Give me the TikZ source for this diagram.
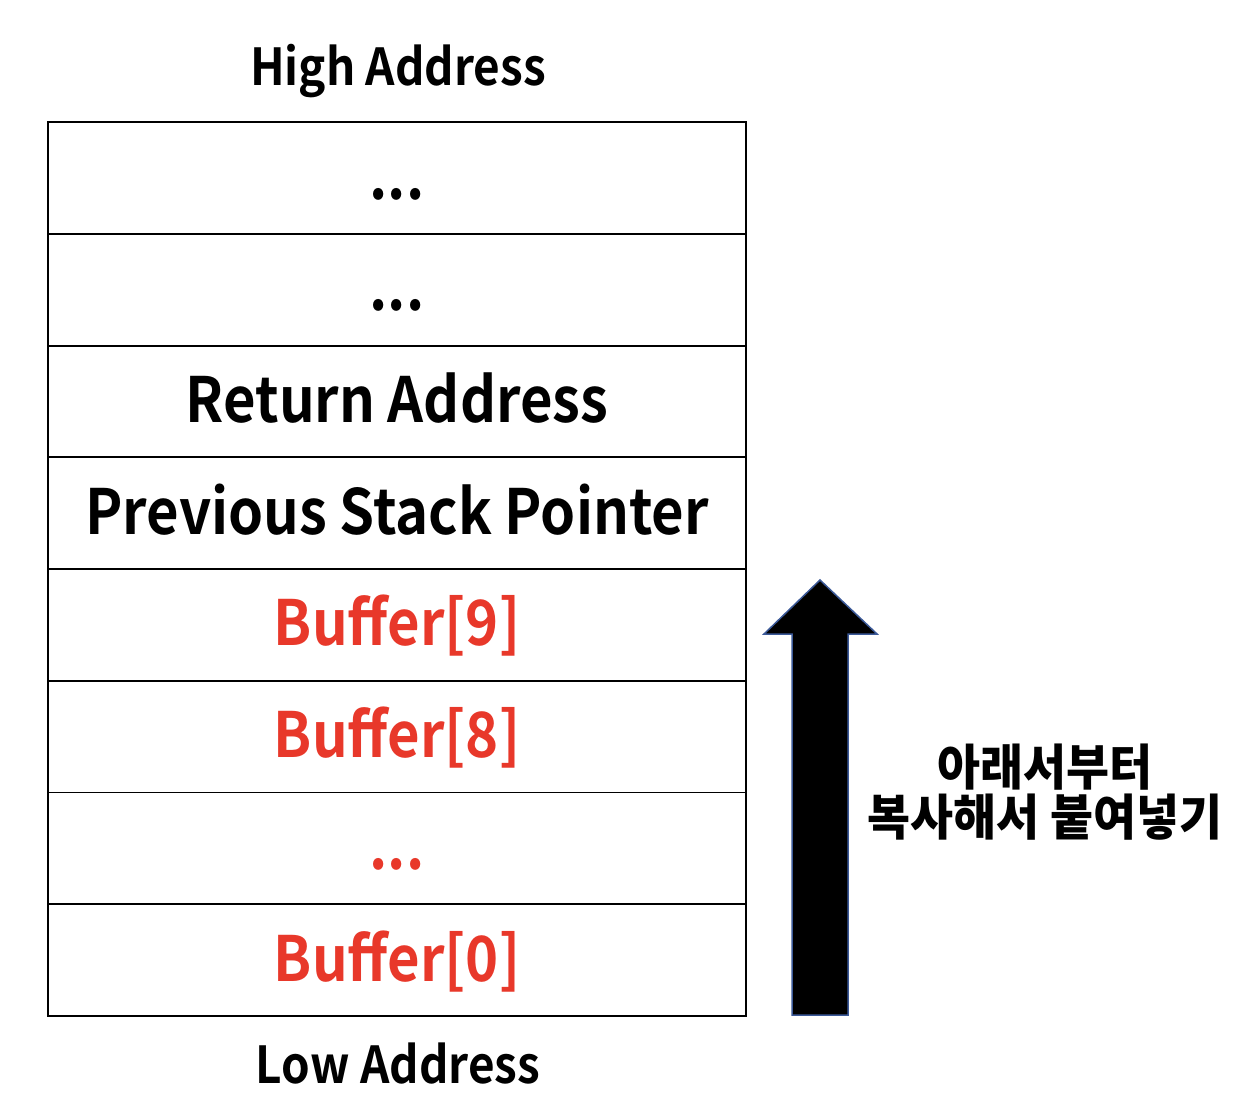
\documentclass[tikz,border=0pt]{standalone}
\usepackage{fontspec}
\setmainfont{Noto Sans CJK KR}[UprightFont=* Bold, FakeStretch=0.9]
\newfontfamily\notefont{Noto Sans CJK KR}[UprightFont=* Black, FakeStretch=0.95]
\usetikzlibrary{positioning}
\definecolor{bufred}{RGB}{232,56,42}
\definecolor{arrowedge}{RGB}{59,89,152}
\tikzset{
    cell/.style={draw, line width=1.1pt, minimum width=13.96cm, minimum height=2.235cm,
        inner sep=0pt, outer sep=0pt, font=\fontsize{35.5}{40}\selectfont,
        text height=0.84cm, text depth=0pt},
    bufcell/.style={cell, text=bufred},
    addr/.style={anchor=base, font=\fontsize{29}{32}\selectfont},
}

\begin{document}
\begin{tikzpicture}[x=0.02cm,y=-0.02cm]

    \useasboundingbox (0,0) rectangle (1244,1106);

    \node[addr] (high) at (398,85) {High Address};

    \node[cell] (r1) at (397,178) {...};
    \node[cell, below=0pt of r1] (r2) {...};
    \node[cell, below=0pt of r2] (ret) {Return Address};
    \node[cell, below=0pt of ret] (prev) {Previous Stack Pointer};
    \node[bufcell, below=0pt of prev] (b9) {Buffer[9]};
    \node[bufcell, below=0pt of b9] (b8) {Buffer[8]};
    \node[bufcell, below=0pt of b8] (bdots) {...};
    \node[bufcell, below=0pt of bdots] (b0) {Buffer[0]};

    \node[addr] (low) at (398,1083) {Low Address};

    % copy direction
    \draw[fill=black, draw=arrowedge, line width=0.85pt, line join=miter]
        (792,1015) -- (848,1015) -- (848,634) -- (877,634) -- (820,580)
        -- (764,634) -- (792,634) -- cycle;

    \node[align=center, font=\notefont\fontsize{28}{28}\selectfont] (note) at (1045,792)
        {아래서부터\\복사해서 붙여넣기};

\end{tikzpicture}
\end{document}
